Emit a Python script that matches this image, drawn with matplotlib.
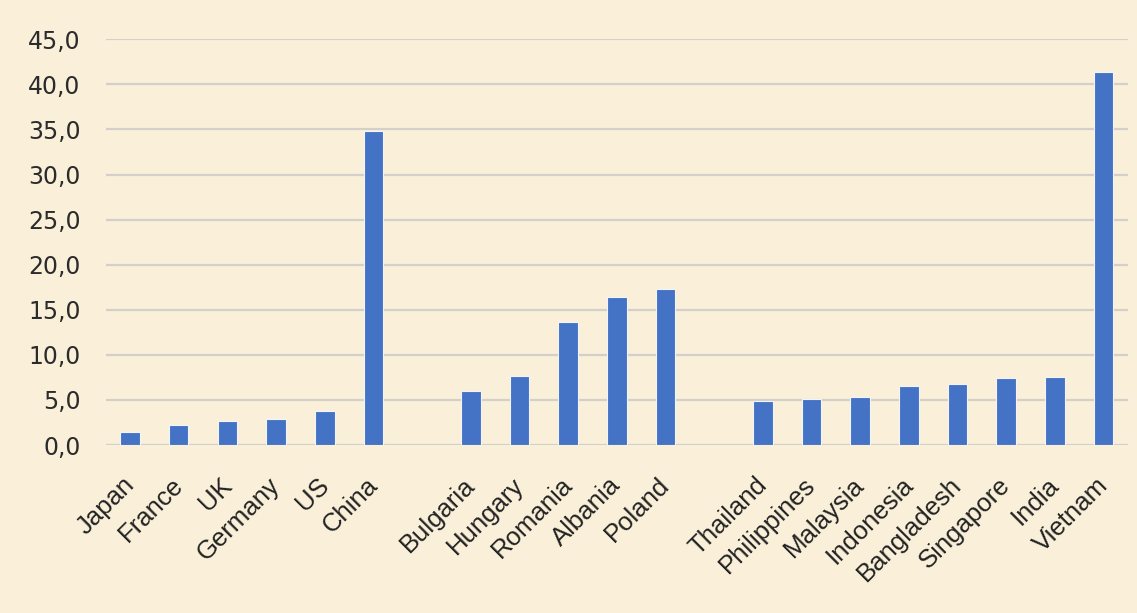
import matplotlib
matplotlib.use("Agg")
import matplotlib.pyplot as plt
import matplotlib.transforms as mtransforms
from matplotlib.ticker import FuncFormatter

# Data (empty strings are gaps between country groups)
group_developed = ["Japan", "France", "UK", "Germany", "US", "China"]
values_developed = [1.4, 2.2, 2.7, 2.9, 3.8, 34.8]

group_europe = ["Bulgaria", "Hungary", "Romania", "Albania", "Poland"]
values_europe = [6.0, 7.7, 13.6, 16.4, 17.3]

group_asia = ["Thailand", "Philippines", "Malaysia", "Indonesia",
              "Bangladesh", "Singapore", "India", "Vietnam"]
values_asia = [4.9, 5.1, 5.3, 6.5, 6.8, 7.4, 7.5, 41.4]

y_ticks = [0, 5, 10, 15, 20, 25, 30, 35, 40, 45]

labels = group_developed + [""] + group_europe + [""] + group_asia
values = values_developed + [None] + values_europe + [None] + values_asia

bg = "#FAF0DA"
fig = plt.figure(figsize=(11.37, 6.13), dpi=100, facecolor=bg)
ax = fig.add_axes([0.093, 0.274, 0.899, 0.662], facecolor=bg)

xs = [i for i, v in enumerate(values) if v is not None]
hs = [v for v in values if v is not None]
ax.bar(xs, hs, width=0.4, color="#4472C4", edgecolor="#F4F4F8",
       linewidth=0.8, zorder=3)

ax.set_xlim(-0.5, len(values) - 0.5)
ax.set_ylim(0, 45)
ax.set_yticks(y_ticks)
ax.yaxis.set_major_formatter(FuncFormatter(lambda v, p: f"{v:.1f}".replace(".", ",")))
ax.grid(axis="y", color="#D3D0CA", linewidth=1.6, zorder=0)
ax.set_axisbelow(True)

for s in ax.spines.values():
    s.set_visible(False)
ax.tick_params(axis="both", length=0, colors="#2B2B2B")
ax.tick_params(axis="y", pad=18)
for t in ax.get_yticklabels():
    t.set_fontsize(17)
    t.set_fontfamily("DejaVu Sans")

tick_pos = [i for i, l in enumerate(labels) if l]
ax.set_xticks(tick_pos)
ax.set_xticklabels([l for l in labels if l], rotation=45, ha="right",
                   rotation_mode="anchor")
ax.tick_params(axis="x", pad=20)
offset = mtransforms.ScaledTranslation(-8 / 100, 0, fig.dpi_scale_trans)
for t in ax.get_xticklabels():
    t.set_fontsize(18.5)
    t.set_fontfamily("Liberation Sans")
    t.set_color("#222222")
    t.set_transform(t.get_transform() + offset)

fig.savefig("out.png", dpi=100, facecolor=bg)
